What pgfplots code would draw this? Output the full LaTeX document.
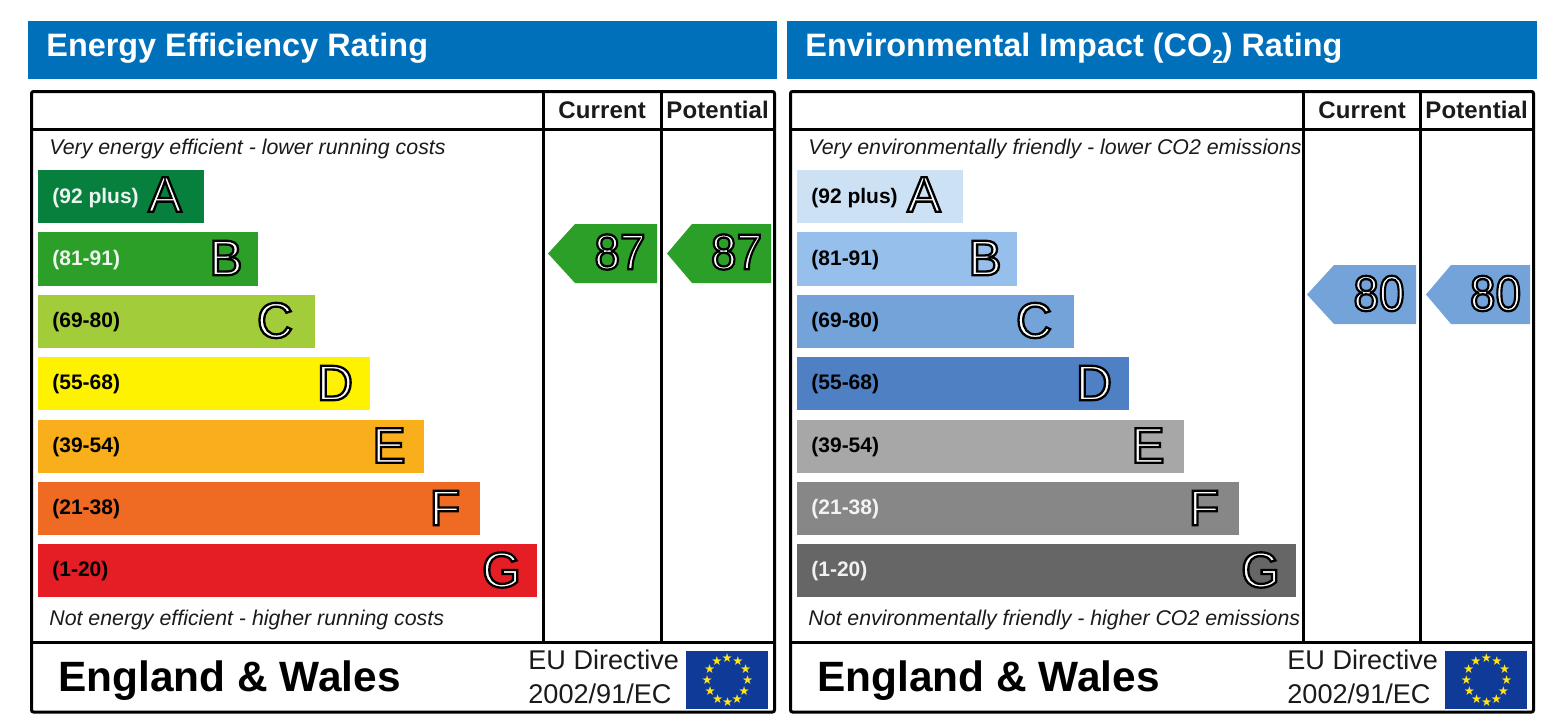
\documentclass[border=0pt]{standalone}
\usepackage{fontspec}
\usepackage{xcolor}
\usepackage{pgfplots}
\pgfplotsset{compat=1.18}
\setmainfont{Liberation Sans}
\newfontfamily\dejavu{DejaVu Sans}
\newfontfamily\olfont[FakeBold=4.6]{Liberation Sans}
\definecolor{banner}{HTML}{0070BA}
\definecolor{eA}{HTML}{08803D}
\definecolor{eB}{HTML}{2C9F29}
\definecolor{eC}{HTML}{A2CC3A}
\definecolor{eD}{HTML}{FFF200}
\definecolor{eE}{HTML}{F9AE1B}
\definecolor{eF}{HTML}{EF6A23}
\definecolor{eG}{HTML}{E51D25}
\definecolor{cA}{HTML}{CDE1F5}
\definecolor{cB}{HTML}{97BFEC}
\definecolor{cC}{HTML}{73A3D9}
\definecolor{cD}{HTML}{4E80C3}
\definecolor{cE}{HTML}{A7A7A7}
\definecolor{cF}{HTML}{878787}
\definecolor{cG}{HTML}{666666}
\definecolor{flagblue}{HTML}{0F3A97}
\definecolor{flagstar}{HTML}{FFE51A}
\definecolor{ink}{HTML}{1A1A1A}
\newcommand\fs[1]{\fontsize{#1}{#1}\selectfont}
\newcommand\ol[1]{\special{pdf:bcolor [1] [0]}{\olfont #1}\special{pdf:ecolor}}
\tikzset{
  lbl/.style={anchor=base west,inner sep=0pt,font=\bfseries\fs{10.5}},
  capt/.style={anchor=base west,inner sep=0pt,text=ink,font=\itshape\fs{10.66}},
  hdr/.style={anchor=base west,inner sep=0pt,text=ink,font=\bfseries\fs{12}},
  dirl/.style={anchor=base west,inner sep=0pt,text=ink,font=\fs{13.55}},
  eng/.style={anchor=base west,inner sep=0pt,text=black,font=\bfseries\fs{21.2}},
  big/.style={anchor=center,inner sep=0pt,font=\fs{25}},
  rule/.style={draw=black,line width=1.5pt},
}
\begin{document}
\begin{tikzpicture}
\begin{axis}[
  scale only axis,width=777pt,height=360pt,
  xmin=0,xmax=1554,ymin=0,ymax=720,y dir=reverse,
  hide axis,
  text mark as node=true]
\path (axis cs:0,0) rectangle (axis cs:1554,720);
% banners
\addplot[fill=banner,draw=none] coordinates {(28,21)(777,21)(777,79)(28,79)} -- cycle;
\addplot[fill=banner,draw=none] coordinates {(787,21)(1537,21)(1537,79)(787,79)} -- cycle;
% energy bands
\addplot[fill=eA,draw=none] coordinates {(38,170)(204,170)(204,223)(38,223)} -- cycle;
\addplot[fill=eB,draw=none] coordinates {(38,232)(258,232)(258,286)(38,286)} -- cycle;
\addplot[fill=eC,draw=none] coordinates {(38,295)(315,295)(315,348)(38,348)} -- cycle;
\addplot[fill=eD,draw=none] coordinates {(38,357)(370,357)(370,410)(38,410)} -- cycle;
\addplot[fill=eE,draw=none] coordinates {(38,420)(424,420)(424,473)(38,473)} -- cycle;
\addplot[fill=eF,draw=none] coordinates {(38,482)(480,482)(480,535)(38,535)} -- cycle;
\addplot[fill=eG,draw=none] coordinates {(38,544)(537,544)(537,597)(38,597)} -- cycle;
% environmental bands
\addplot[fill=cA,draw=none] coordinates {(797,170)(963,170)(963,223)(797,223)} -- cycle;
\addplot[fill=cB,draw=none] coordinates {(797,232)(1017,232)(1017,286)(797,286)} -- cycle;
\addplot[fill=cC,draw=none] coordinates {(797,295)(1074,295)(1074,348)(797,348)} -- cycle;
\addplot[fill=cD,draw=none] coordinates {(797,357)(1129,357)(1129,410)(797,410)} -- cycle;
\addplot[fill=cE,draw=none] coordinates {(797,420)(1184,420)(1184,473)(797,473)} -- cycle;
\addplot[fill=cF,draw=none] coordinates {(797,482)(1239,482)(1239,535)(797,535)} -- cycle;
\addplot[fill=cG,draw=none] coordinates {(797,544)(1296,544)(1296,597)(797,597)} -- cycle;
% arrows
\addplot[fill=eB,draw=none] coordinates {(657,224)(575,224)(548,253.5)(575,283)(657,283)} -- cycle;
\addplot[fill=eB,draw=none] coordinates {(771,224)(692,224)(667,253.5)(692,283)(771,283)} -- cycle;
\addplot[fill=cC,draw=none] coordinates {(1416,265)(1334,265)(1307,294.5)(1334,324)(1416,324)} -- cycle;
\addplot[fill=cC,draw=none] coordinates {(1530,265)(1451,265)(1426,294.5)(1451,324)(1530,324)} -- cycle;
% flags
\addplot[fill=flagblue,draw=none] coordinates {(686,651)(768,651)(768,709)(686,709)} -- cycle;
\addplot[fill=flagblue,draw=none] coordinates {(1445,651)(1527,651)(1527,709)(1445,709)} -- cycle;
\addplot[only marks,mark=text,text mark={\dejavu ★},
  text mark style={font=\fs{6.2},text=flagstar,inner sep=0pt}] coordinates {
  (727.3,658)(738,661)(745.7,669)(747.7,680)(744.3,690.7)(737.3,698.7)
  (727.7,702.3)(717.7,699)(710.3,690.7)(707.3,680)(709.7,669)(717,661)};
\addplot[only marks,mark=text,text mark={\dejavu ★},
  text mark style={font=\fs{6.2},text=flagstar,inner sep=0pt}] coordinates {
  (1486.3,658)(1497,661)(1504.7,669)(1506.7,680)(1503.3,690.7)(1496.3,698.7)
  (1486.7,702.3)(1476.7,699)(1469.3,690.7)(1466.3,680)(1468.7,669)(1476,661)};
% frames
\draw[rule,rounded corners=1pt] (axis cs:31.5,91.5) rectangle (axis cs:774.5,712);
\draw[rule] (axis cs:31.5,129.5) -- (axis cs:774.5,129.5);
\draw[rule] (axis cs:31.5,642) -- (axis cs:774.5,642);
\draw[rule] (axis cs:543,91.5) -- (axis cs:543,642);
\draw[rule] (axis cs:661,91.5) -- (axis cs:661,642);
\draw[rule,rounded corners=1pt] (axis cs:790.5,91.5) rectangle (axis cs:1533.5,712);
\draw[rule] (axis cs:790.5,129.5) -- (axis cs:1533.5,129.5);
\draw[rule] (axis cs:790.5,642) -- (axis cs:1533.5,642);
\draw[rule] (axis cs:1303,91.5) -- (axis cs:1303,642);
\draw[rule] (axis cs:1420,91.5) -- (axis cs:1420,642);
% titles
\node[anchor=base west,inner sep=0pt,text=white,font=\bfseries\fs{16.2}] at (axis cs:46,56.5) {Energy Efficiency Rating};
\node[anchor=base west,inner sep=0pt,text=white,font=\bfseries\fs{16.2}] at (axis cs:805,56.5) {Environmental Impact (CO\raisebox{-.22em}{\fs{9.5}2}\kern-.5pt) Rating};
% headers
\node[hdr] at (axis cs:558,118) {\addfontfeatures{LetterSpace=.6}Current};
\node[hdr] at (axis cs:666,118) {\addfontfeatures{LetterSpace=.6}Potential};
\node[hdr] at (axis cs:1318,118) {\addfontfeatures{LetterSpace=.6}Current};
\node[hdr] at (axis cs:1425,118) {\addfontfeatures{LetterSpace=.6}Potential};
% captions
\node[capt] at (axis cs:49,154) {Very energy efficient - lower running costs};
\node[capt] at (axis cs:49,625) {Not energy efficient - higher running costs};
\node[capt] at (axis cs:808,154) {Very environmentally friendly - lower CO2 emissions};
\node[capt] at (axis cs:808,625) {Not environmentally friendly - higher CO2 emissions};
% band labels, energy
\node[lbl,text=white!92!eA] at (axis cs:52,203) {(92 plus)};
\node[lbl,text=white!92!eB] at (axis cs:52,265) {(81-91)};
\node[lbl,text=black] at (axis cs:52,327.5) {(69-80)};
\node[lbl,text=black] at (axis cs:52,389.5) {(55-68)};
\node[lbl,text=black] at (axis cs:52,452.5) {(39-54)};
\node[lbl,text=black] at (axis cs:52,514.5) {(21-38)};
\node[lbl,text=black] at (axis cs:52,576.5) {(1-20)};
% band labels, environmental
\node[lbl,text=black] at (axis cs:811,203) {(92 plus)};
\node[lbl,text=black] at (axis cs:811,265) {(81-91)};
\node[lbl,text=black] at (axis cs:811,327.5) {(69-80)};
\node[lbl,text=black] at (axis cs:811,389.5) {(55-68)};
\node[lbl,text=black] at (axis cs:811,452.5) {(39-54)};
\node[lbl,text=white!90!cF] at (axis cs:811,514.5) {(21-38)};
\node[lbl,text=white!90!cG] at (axis cs:811,576.5) {(1-20)};
% letters
\node[big] at (axis cs:165,194.5) {\ol{A}};
\node[big] at (axis cs:226,258) {\ol{B}};
\node[big] at (axis cs:275,320.5) {\ol{C}};
\node[big] at (axis cs:335,383) {\ol{D}};
\node[big] at (axis cs:389,445.5) {\ol{E}};
\node[big] at (axis cs:445,508) {\ol{F}};
\node[big] at (axis cs:501.5,570) {\ol{G}};
\node[big] at (axis cs:924,194.5) {\ol{A}};
\node[big] at (axis cs:985,258) {\ol{B}};
\node[big] at (axis cs:1034,320.5) {\ol{C}};
\node[big] at (axis cs:1094,383) {\ol{D}};
\node[big] at (axis cs:1148,445.5) {\ol{E}};
\node[big] at (axis cs:1204,508) {\ol{F}};
\node[big] at (axis cs:1260.5,570) {\ol{G}};
% values
\node[big] at (axis cs:620,252) {\scalebox{.92}[1]{\ol{87}}};
\node[big] at (axis cs:736.5,252) {\scalebox{.92}[1]{\ol{87}}};
\node[big] at (axis cs:1379,293.5) {\scalebox{.92}[1]{\ol{80}}};
\node[big] at (axis cs:1495.5,293.5) {\scalebox{.92}[1]{\ol{80}}};
% footers
\node[eng] at (axis cs:58,691) {England \& Wales};
\node[eng] at (axis cs:817,691) {England \& Wales};
\node[dirl] at (axis cs:528,669) {EU Directive};
\node[dirl] at (axis cs:528,703) {2002/91/EC};
\node[dirl] at (axis cs:1287,669) {EU Directive};
\node[dirl] at (axis cs:1287,703) {2002/91/EC};
\end{axis}
\end{tikzpicture}
\end{document}
